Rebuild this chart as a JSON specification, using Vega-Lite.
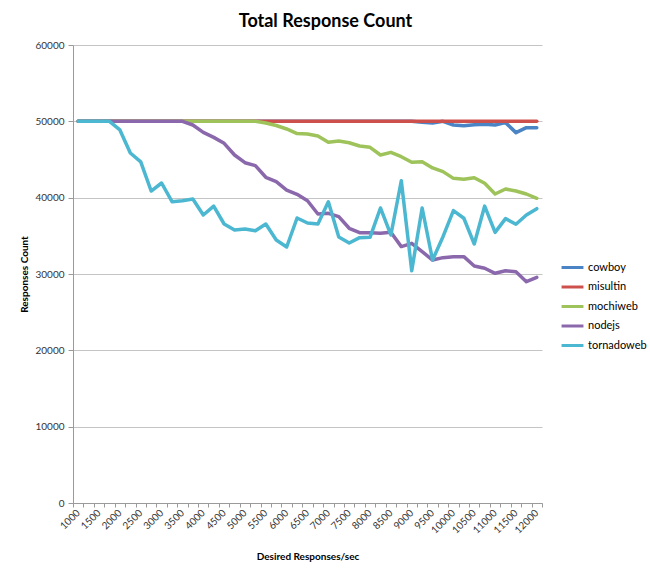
{
  "$schema": "https://vega.github.io/schema/vega-lite/v6.json",
  "width": 469,
  "height": 458,
  "autosize": {"type": "none"},
  "padding": {"left": 73, "top": 45, "right": 108, "bottom": 74},
  "background": "white",
  "title": {
    "text": "Total Response Count",
    "font": "Lato",
    "fontSize": 18,
    "fontWeight": "bold",
    "color": "#000000",
    "anchor": "middle",
    "dx": 18,
    "offset": 9
  },
  "data": {
    "values": [
      {"rate": 1000, "cowboy": 50000, "misultin": 50000, "mochiweb": 50000, "nodejs": 50000, "tornadoweb": 50000},
      {"rate": 1250, "cowboy": 50000, "misultin": 50000, "mochiweb": 50000, "nodejs": 50000, "tornadoweb": 50000},
      {"rate": 1500, "cowboy": 50000, "misultin": 50000, "mochiweb": 50000, "nodejs": 50000, "tornadoweb": 50000},
      {"rate": 1750, "cowboy": 50000, "misultin": 50000, "mochiweb": 50000, "nodejs": 50000, "tornadoweb": 50000},
      {"rate": 2000, "cowboy": 50000, "misultin": 50000, "mochiweb": 50000, "nodejs": 50000, "tornadoweb": 48870},
      {"rate": 2250, "cowboy": 50000, "misultin": 50000, "mochiweb": 50000, "nodejs": 50000, "tornadoweb": 45850},
      {"rate": 2500, "cowboy": 50000, "misultin": 50000, "mochiweb": 50000, "nodejs": 50000, "tornadoweb": 44700},
      {"rate": 2750, "cowboy": 50000, "misultin": 50000, "mochiweb": 50000, "nodejs": 50000, "tornadoweb": 40870},
      {"rate": 3000, "cowboy": 50000, "misultin": 50000, "mochiweb": 50000, "nodejs": 50000, "tornadoweb": 41920},
      {"rate": 3250, "cowboy": 50000, "misultin": 50000, "mochiweb": 50000, "nodejs": 50000, "tornadoweb": 39470},
      {"rate": 3500, "cowboy": 50000, "misultin": 50000, "mochiweb": 50000, "nodejs": 50000, "tornadoweb": 39600},
      {"rate": 3750, "cowboy": 50000, "misultin": 50000, "mochiweb": 50000, "nodejs": 49520, "tornadoweb": 39830},
      {"rate": 4000, "cowboy": 50000, "misultin": 50000, "mochiweb": 50000, "nodejs": 48560, "tornadoweb": 37730},
      {"rate": 4250, "cowboy": 50000, "misultin": 50000, "mochiweb": 50000, "nodejs": 47900, "tornadoweb": 38900},
      {"rate": 4500, "cowboy": 50000, "misultin": 50000, "mochiweb": 50000, "nodejs": 47120, "tornadoweb": 36550},
      {"rate": 4750, "cowboy": 50000, "misultin": 50000, "mochiweb": 50000, "nodejs": 45590, "tornadoweb": 35770},
      {"rate": 5000, "cowboy": 50000, "misultin": 50000, "mochiweb": 50000, "nodejs": 44580, "tornadoweb": 35900},
      {"rate": 5250, "cowboy": 50000, "misultin": 50000, "mochiweb": 50000, "nodejs": 44190, "tornadoweb": 35670},
      {"rate": 5500, "cowboy": 50000, "misultin": 50000, "mochiweb": 49780, "nodejs": 42670, "tornadoweb": 36550},
      {"rate": 5750, "cowboy": 50000, "misultin": 50000, "mochiweb": 49450, "nodejs": 42100, "tornadoweb": 34450},
      {"rate": 6000, "cowboy": 50000, "misultin": 50000, "mochiweb": 49000, "nodejs": 41000, "tornadoweb": 33540},
      {"rate": 6250, "cowboy": 50000, "misultin": 50000, "mochiweb": 48400, "nodejs": 40440, "tornadoweb": 37340},
      {"rate": 6500, "cowboy": 50000, "misultin": 50000, "mochiweb": 48340, "nodejs": 39600, "tornadoweb": 36680},
      {"rate": 6750, "cowboy": 50000, "misultin": 50000, "mochiweb": 48080, "nodejs": 37860, "tornadoweb": 36550},
      {"rate": 7000, "cowboy": 50000, "misultin": 50000, "mochiweb": 47250, "nodejs": 37950, "tornadoweb": 39470},
      {"rate": 7250, "cowboy": 50000, "misultin": 50000, "mochiweb": 47430, "nodejs": 37510, "tornadoweb": 34850},
      {"rate": 7500, "cowboy": 50000, "misultin": 50000, "mochiweb": 47200, "nodejs": 35990, "tornadoweb": 34060},
      {"rate": 7750, "cowboy": 50000, "misultin": 50000, "mochiweb": 46770, "nodejs": 35410, "tornadoweb": 34760},
      {"rate": 8000, "cowboy": 50000, "misultin": 50000, "mochiweb": 46600, "nodejs": 35410, "tornadoweb": 34800},
      {"rate": 8250, "cowboy": 50000, "misultin": 50000, "mochiweb": 45590, "nodejs": 35330, "tornadoweb": 38650},
      {"rate": 8500, "cowboy": 50000, "misultin": 50000, "mochiweb": 45940, "nodejs": 35460, "tornadoweb": 35110},
      {"rate": 8750, "cowboy": 50000, "misultin": 50000, "mochiweb": 45370, "nodejs": 33590, "tornadoweb": 42220},
      {"rate": 9000, "cowboy": 50000, "misultin": 50000, "mochiweb": 44630, "nodejs": 34020, "tornadoweb": 30430},
      {"rate": 9250, "cowboy": 49870, "misultin": 50000, "mochiweb": 44720, "nodejs": 32930, "tornadoweb": 38650},
      {"rate": 9500, "cowboy": 49780, "misultin": 50000, "mochiweb": 43900, "nodejs": 31830, "tornadoweb": 31830},
      {"rate": 9750, "cowboy": 50000, "misultin": 50000, "mochiweb": 43410, "nodejs": 32140, "tornadoweb": 34890},
      {"rate": 10000, "cowboy": 49520, "misultin": 50000, "mochiweb": 42530, "nodejs": 32270, "tornadoweb": 38300},
      {"rate": 10250, "cowboy": 49430, "misultin": 50000, "mochiweb": 42400, "nodejs": 32270, "tornadoweb": 37300},
      {"rate": 10500, "cowboy": 49550, "misultin": 50000, "mochiweb": 42620, "nodejs": 31050, "tornadoweb": 33930},
      {"rate": 10750, "cowboy": 49610, "misultin": 50000, "mochiweb": 41880, "nodejs": 30750, "tornadoweb": 38900},
      {"rate": 11000, "cowboy": 49520, "misultin": 50000, "mochiweb": 40480, "nodejs": 30090, "tornadoweb": 35460},
      {"rate": 11250, "cowboy": 49830, "misultin": 50000, "mochiweb": 41140, "nodejs": 30430, "tornadoweb": 37250},
      {"rate": 11500, "cowboy": 48520, "misultin": 50000, "mochiweb": 40870, "nodejs": 30300, "tornadoweb": 36510},
      {"rate": 11750, "cowboy": 49170, "misultin": 50000, "mochiweb": 40480, "nodejs": 28990, "tornadoweb": 37730},
      {"rate": 12000, "cowboy": 49170, "misultin": 50000, "mochiweb": 39920, "nodejs": 29560, "tornadoweb": 38560}
    ]
  },
  "transform": [
    {"fold": ["cowboy", "misultin", "mochiweb", "nodejs", "tornadoweb"], "as": ["server", "count"]}
  ],
  "mark": {"type": "line", "strokeWidth": 3.5, "strokeJoin": "round", "strokeCap": "round"},
  "encoding": {
    "x": {
      "field": "rate",
      "type": "quantitative",
      "scale": {"domain": [875, 12125], "nice": false, "zero": false},
      "axis": {
        "title": "Desired Responses/sec",
        "values": [875, 1125, 1375, 1625, 1875, 2125, 2375, 2625, 2875, 3125, 3375, 3625, 3875, 4125, 4375, 4625, 4875, 5125, 5375, 5625, 5875, 6125, 6375, 6625, 6875, 7125, 7375, 7625, 7875, 8125, 8375, 8625, 8875, 9125, 9375, 9625, 9875, 10125, 10375, 10625, 10875, 11125, 11375, 11625, 11875, 12125],
        "labelExpr": "(datum.value + 125) % 500 == 0 ? toString(datum.value + 125) : ''",
        "labelOffset": 5,
        "labelAngle": -45,
        "labelAlign": "right",
        "labelBaseline": "middle",
        "labelOverlap": false,
        "labelPadding": 4,
        "grid": false,
        "tickSize": 4,
        "titlePadding": 16
      }
    },
    "y": {
      "field": "count",
      "type": "quantitative",
      "scale": {"domain": [0, 60000], "nice": false},
      "axis": {
        "title": "Responses Count",
        "values": [0, 10000, 20000, 30000, 40000, 50000, 60000],
        "format": "d",
        "grid": true,
        "tickSize": 5,
        "labelPadding": 4,
        "titlePadding": 5
      }
    },
    "color": {
      "field": "server",
      "type": "nominal",
      "scale": {
        "domain": ["cowboy", "misultin", "mochiweb", "nodejs", "tornadoweb"],
        "range": ["#4a84c4", "#cd504c", "#9dc35a", "#8a68ab", "#4cb7d0"]
      },
      "legend": {
        "title": null,
        "orient": "none",
        "legendX": 487,
        "legendY": 210,
        "symbolType": "stroke",
        "symbolSize": 480,
        "symbolStrokeWidth": 3,
        "rowPadding": 0.5,
        "labelFont": "Lato",
        "labelFontSize": 11,
        "labelColor": "#000000",
        "labelOffset": 3
      }
    }
  },
  "config": {
    "view": {"stroke": null},
    "axis": {
      "labelFont": "Lato",
      "labelFontSize": 10,
      "labelColor": "#333333",
      "titleFont": "Lato",
      "titleFontSize": 10,
      "titleFontWeight": "bold",
      "titleColor": "#000000",
      "domainColor": "#9a9a9a",
      "tickColor": "#9a9a9a",
      "gridColor": "#c4c4c4"
    }
  }
}
